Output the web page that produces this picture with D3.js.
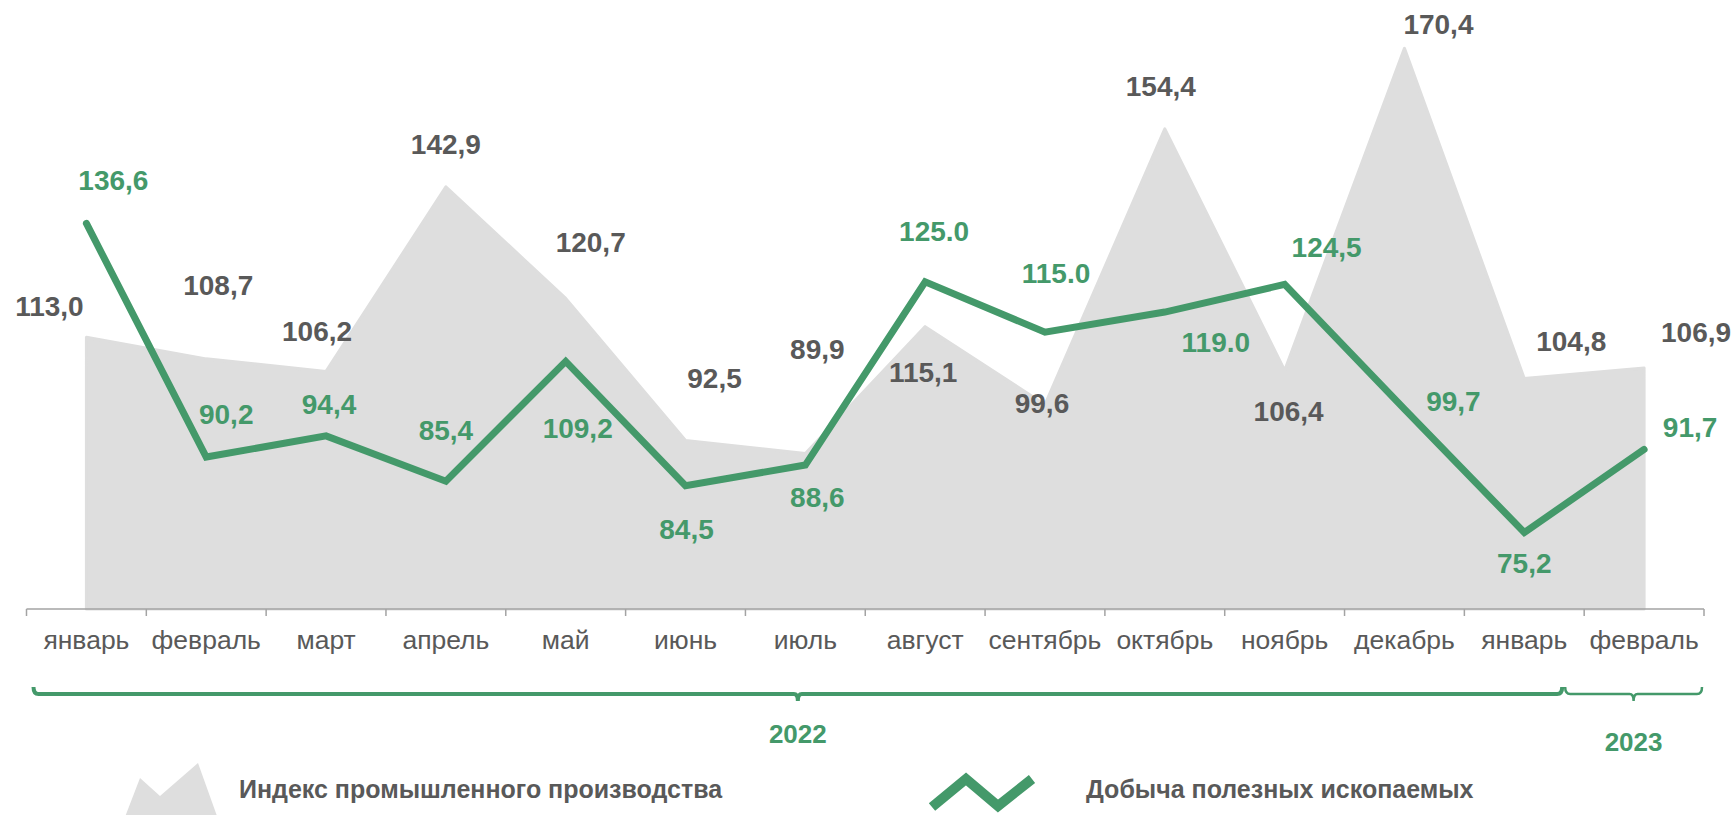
<!DOCTYPE html>
<html>
<head>
<meta charset="utf-8">
<script src="https://d3js.org/d3.v7.min.js"></script>
<style>
  body { margin: 0; background: #fff; }
  text { font-family: "Liberation Sans", Arial, sans-serif; }
</style>
</head>
<body>
<script>

// Data

const months = ["январь", "февраль", "март", "апрель", "май", "июнь", "июль",
  "август", "сентябрь", "октябрь", "ноябрь", "декабрь", "январь", "февраль"];

// Индекс промышленного производства (area)
const industry = [113.0, 108.7, 106.2, 142.9, 120.7, 92.5, 89.9, 115.1, 99.6, 154.4, 106.4, 170.4, 104.8, 106.9];
const industryText = ["113,0", "108,7", "106,2", "142,9", "120,7", "92,5", "89,9", "115,1", "99,6", "154,4", "106,4", "170,4", "104,8", "106,9"];

// Добыча полезных ископаемых (line)
const mining = [136.6, 90.2, 94.4, 85.4, 109.2, 84.5, 88.6, 125.0, 115.0, 119.0, 124.5, 99.7, 75.2, 91.7];
const miningText = ["136,6", "90,2", "94,4", "85,4", "109,2", "84,5", "88,6", "125.0", "115.0", "119.0", "124,5", "99,7", "75,2", "91,7"];

const years = ["2022", "2023"];
const yearFirst = [0, 13];   // first month index under the brace
const yearLast = [12, 13];   // last month index under the brace

const seriesNames = ["Индекс промышленного производства", "Добыча полезных ископаемых"];

// Layout

const width = 1736, height = 815;
const green = "#44996A", areaGray = "#DEDEDE", textGray = "#595959";

// label nudges (px) relative to each point, the labels were placed by hand in the original
const industryNudge = [[-37,-31],[12,-74],[-9,-41],[0,-43],[25,-57],[29,-62],[12,-105],
  [-2,45],[-3,-2],[-4,-43],[4,40],[34,-24],[47,-38],[52,-36]];
const miningNudge = [[27,-44],[20,-43],[3,-32],[0,-51],[12,67],[1,43],[12,32],
  [9,-51],[11,-59],[51,30],[42,-37],[49,-8],[0,30],[46,-23]];

const svg = d3.select("body").append("svg")
  .attr("width", width)
  .attr("height", height);

// scales
const x = d3.scaleBand().domain(d3.range(months.length)).range([26.5, 1704]);
const cx = i => x(i) + x.bandwidth() / 2;

const axisY = 609;
const y = d3.scaleLinear().domain([59, 180]).range([axisY, 0]);   // primary
const y2 = d3.scaleLinear().domain([60, 181]).range([axisY, 0]);  // secondary

// area
svg.append("path")
  .datum(industry)
  .attr("fill", areaGray)
  .attr("stroke", areaGray)
  .attr("stroke-width", 3)
  .attr("stroke-linejoin", "round")
  .attr("d", d3.area()
    .x((d, i) => cx(i))
    .y0(axisY)
    .y1(d => y(d)));

// x axis
const xAxis = svg.append("g")
  .attr("transform", `translate(0,${axisY})`)
  .call(d3.axisBottom(x).tickSize(0).tickFormat(i => months[i]));
xAxis.select(".domain").remove();
xAxis.selectAll("text")
  .attr("y", 40)
  .attr("dy", 0)
  .attr("fill", textGray)
  .style("font-size", "26.5px");

svg.append("line")
  .attr("x1", x.range()[0]).attr("x2", x.range()[1])
  .attr("y1", axisY).attr("y2", axisY)
  .attr("stroke", "#A3A3A3").attr("stroke-width", 1.5);

svg.selectAll(".tick-mark")
  .data(d3.range(months.length + 1))
  .enter()
  .append("line")
  .attr("x1", i => x.range()[0] + i * x.step())
  .attr("x2", i => x.range()[0] + i * x.step())
  .attr("y1", axisY).attr("y2", axisY + 7)
  .attr("stroke", "#A3A3A3").attr("stroke-width", 1.5);

// line
svg.append("path")
  .datum(mining)
  .attr("fill", "none")
  .attr("stroke", green)
  .attr("stroke-width", 7)
  .attr("stroke-linejoin", "miter")
  .attr("stroke-linecap", "round")
  .attr("d", d3.line()
    .x((d, i) => cx(i))
    .y(d => y2(d)));

// value labels
svg.selectAll(".lbl-ind")
  .data(industry)
  .enter()
  .append("text")
  .attr("x", (d, i) => cx(i) + industryNudge[i][0])
  .attr("y", (d, i) => y(d) + industryNudge[i][1])
  .attr("dy", "0.36em")
  .attr("text-anchor", "middle")
  .attr("fill", textGray)
  .style("font-size", "28px")
  .style("font-weight", "bold")
  .text((d, i) => industryText[i]);

svg.selectAll(".lbl-min")
  .data(mining)
  .enter()
  .append("text")
  .attr("x", (d, i) => cx(i) + miningNudge[i][0])
  .attr("y", (d, i) => y2(d) + miningNudge[i][1])
  .attr("dy", "0.36em")
  .attr("text-anchor", "middle")
  .attr("fill", green)
  .style("font-size", "28px")
  .style("font-weight", "bold")
  .text((d, i) => miningText[i]);

// year braces
const braceY = 694;
const braceInset = [[7, 22], [-19, 2]];
const braceWidth = [4, 2.5];
const yearLabelY = [743, 751];

years.forEach((yr, k) => {
  const l = x(yearFirst[k]) + braceInset[k][0];
  const r = x(yearLast[k]) + x.bandwidth() - braceInset[k][1];
  const m = (l + r) / 2;
  const p = d3.path();
  p.moveTo(l, braceY - 7);
  p.quadraticCurveTo(l, braceY, l + 5, braceY);
  p.lineTo(m - 4, braceY);
  p.quadraticCurveTo(m, braceY, m, braceY + 7);
  p.quadraticCurveTo(m, braceY, m + 4, braceY);
  p.lineTo(r - 5, braceY);
  p.quadraticCurveTo(r, braceY, r, braceY - 7);
  svg.append("path")
    .attr("d", p.toString())
    .attr("fill", "none")
    .attr("stroke", green)
    .attr("stroke-width", braceWidth[k]);
  svg.append("text")
    .attr("x", m)
    .attr("y", yearLabelY[k])
    .attr("text-anchor", "middle")
    .attr("fill", green)
    .style("font-size", "26px")
    .style("font-weight", "bold")
    .text(yr);
});

// legend
const legendArea = [[120, 830], [140, 778], [160, 796], [198, 763], [222, 830]];
svg.append("path")
  .attr("d", d3.line()(legendArea) + "Z")
  .attr("fill", areaGray);

const legendLine = [[932, 807], [966, 779], [998, 806], [1032, 779]];
svg.append("path")
  .attr("d", d3.line()(legendLine))
  .attr("fill", "none")
  .attr("stroke", green)
  .attr("stroke-width", 10);

svg.selectAll(".legend-text")
  .data(seriesNames)
  .enter()
  .append("text")
  .attr("x", (d, i) => i === 0 ? 239 : 1086)
  .attr("y", 798)
  .attr("fill", textGray)
  .style("font-size", "25px")
  .style("font-weight", "bold")
  .text(d => d);

</script>
</body>
</html>
